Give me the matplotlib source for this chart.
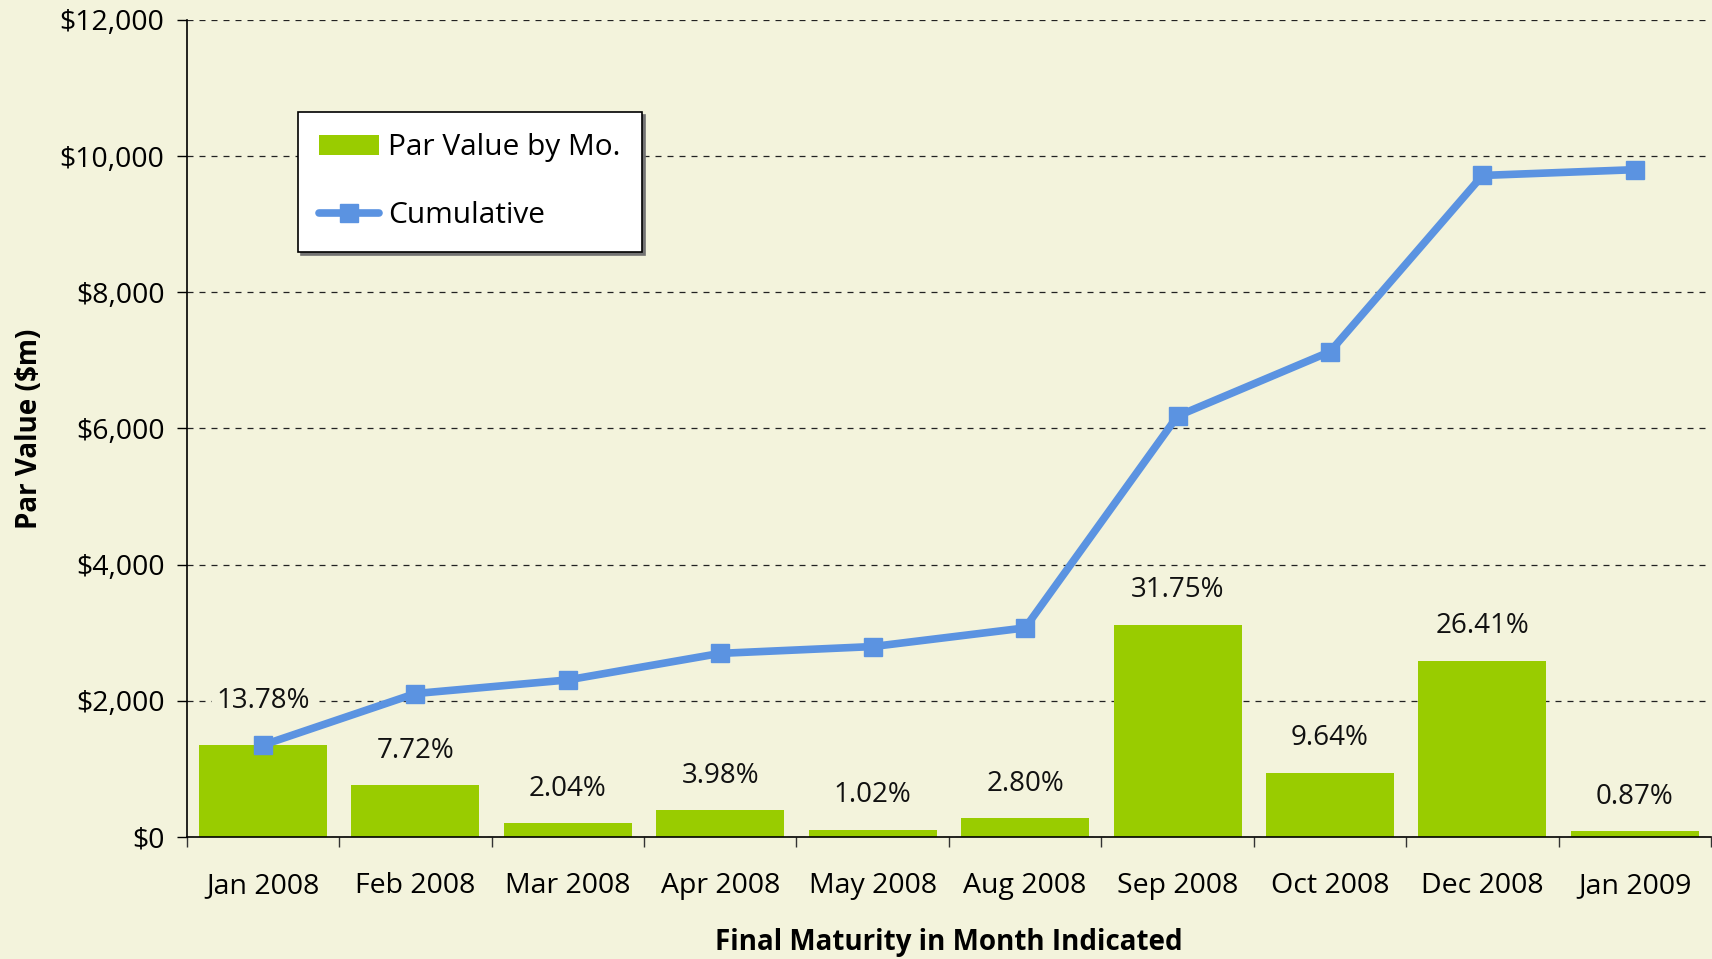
import matplotlib.pyplot as plt
from matplotlib.ticker import FuncFormatter, FixedLocator

# Data
months = ["Jan 2008", "Feb 2008", "Mar 2008", "Apr 2008", "May 2008",
          "Aug 2008", "Sep 2008", "Oct 2008", "Dec 2008", "Jan 2009"]
par_value = [1350, 757, 200, 390, 100, 274, 3112, 945, 2588, 85]
cumulative = [1350, 2107, 2307, 2697, 2797, 3071, 6183, 7128, 9716, 9801]
pct_labels = ["13.78%", "7.72%", "2.04%", "3.98%", "1.02%",
              "2.80%", "31.75%", "9.64%", "26.41%", "0.87%"]

bg = "#F3F3DC"
green = "#99CC00"
blue = "#5B93E1"

plt.rcParams['font.family'] = ['Open Sans', 'DejaVu Sans']


def main():
    fig = plt.figure(figsize=(17.12, 9.59), dpi=100, facecolor=bg)
    ax = fig.add_axes([0.109, 0.1272, 0.8905, 0.852])
    ax.set_facecolor(bg)

    x = list(range(len(months)))

    # Bars and cumulative line
    bars = ax.bar(x, par_value, width=0.84, color=green, zorder=2)
    line, = ax.plot(x, cumulative, color=blue, lw=5.5, marker='s', markersize=13,
                    solid_capstyle='round', zorder=3)

    # Percentage labels above bars
    for i, (v, s) in enumerate(zip(par_value, pct_labels)):
        dy = 25 if i > 0 else 32
        ax.annotate(s, xy=(i, v), xytext=(0, dy), textcoords='offset points',
                    ha='center', va='center', fontsize=20, color='#111111',
                    zorder=4,
                    bbox=dict(boxstyle='square,pad=0.15', fc=bg, ec='none'))

    # Axes
    ax.set_xlim(-0.5, len(months) - 0.5)
    ax.set_ylim(0, 12000)
    ax.set_yticks(range(0, 12001, 2000))
    ax.yaxis.set_major_formatter(FuncFormatter(lambda v, p: '${:,.0f}'.format(v)))
    ax.set_xticks(x)
    ax.set_xticklabels(months)
    ax.xaxis.set_minor_locator(FixedLocator([i - 0.5 for i in range(len(months) + 1)]))
    ax.tick_params(axis='x', which='major', length=0, pad=25, labelsize=20.5)
    ax.tick_params(axis='x', which='minor', length=7, width=1, color='#333333')
    ax.tick_params(axis='y', length=7, width=1, pad=9, labelsize=20.5)

    ax.grid(axis='y', color='#222222', lw=0.9, linestyle=(0, (4.8, 4.8)), zorder=0)
    ax.set_axisbelow(True)

    for side in ['top', 'right']:
        ax.spines[side].set_visible(False)
    ax.spines['left'].set_linewidth(1.2)
    ax.spines['bottom'].set_linewidth(1.2)

    ax.set_ylabel("Par Value ($m)", fontsize=20, fontweight='bold', labelpad=11)
    ax.set_xlabel("Final Maturity in Month Indicated", fontsize=20,
                  fontweight='bold', labelpad=20)

    leg = ax.legend([bars, line], ["Par Value by Mo.", "Cumulative"],
                    loc='upper left', bbox_to_anchor=(0.073, 0.8874),
                    borderaxespad=0, fontsize=21.5, frameon=True, fancybox=False,
                    edgecolor='black', facecolor='white', framealpha=1,
                    handlelength=2.0, handletextpad=0.3, labelspacing=1.3,
                    borderpad=0.72,
                    shadow={'color': '0.45', 'alpha': 1, 'ox': 2, 'oy': -2})
    leg.get_frame().set_linewidth(1.2)
    leg.set_zorder(5)

    fig.savefig("out.png", dpi=100, facecolor=bg)


if __name__ == '__main__':
    main()
